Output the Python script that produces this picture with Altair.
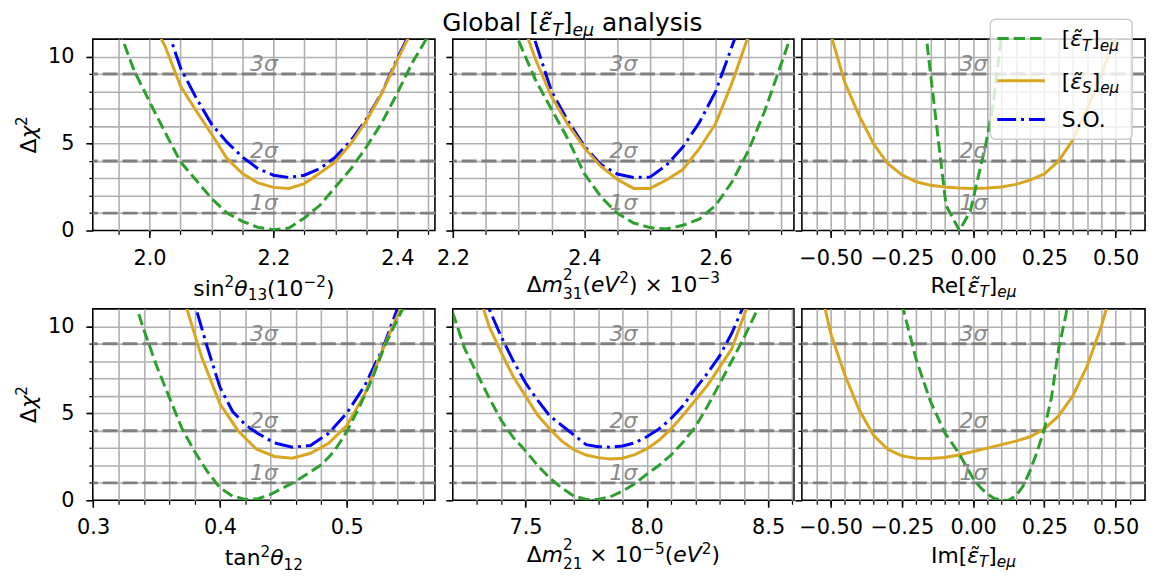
import altair as alt
import pandas as pd

FONT = "DejaVu Sans"

# ---------------- data ----------------
# top-left: sin^2(theta_13) (1e-2)
s13_T_x = [1.95, 1.975, 2.0, 2.025, 2.05, 2.075, 2.1, 2.125, 2.15, 2.175, 2.2, 2.225, 2.25, 2.275, 2.3, 2.325, 2.35, 2.375, 2.4, 2.425, 2.45]
s13_T_y = [11.6, 9.2, 7.4, 5.65, 3.95, 2.9, 1.85, 1.0, 0.53, 0.18, 0.05, 0.14, 0.72, 1.45, 2.5, 3.55, 4.8, 6.2, 7.9, 9.7, 11.2]
s13_S_x = [2.0, 2.025, 2.05, 2.075, 2.1, 2.125, 2.15, 2.175, 2.2, 2.225, 2.25, 2.275, 2.3, 2.325, 2.35, 2.375, 2.4, 2.425]
s13_S_y = [12.3, 10.6, 8.3, 6.9, 5.55, 4.13, 3.27, 2.74, 2.48, 2.42, 2.7, 3.31, 3.94, 5.0, 6.3, 7.9, 9.8, 11.6]
s13_SO_x = [2.025, 2.05, 2.075, 2.1, 2.125, 2.15, 2.175, 2.2, 2.225, 2.25, 2.275, 2.3, 2.325, 2.35, 2.375, 2.4, 2.425]
s13_SO_y = [12.0, 9.34, 7.64, 6.12, 5.08, 4.22, 3.56, 3.18, 3.05, 3.18, 3.56, 4.22, 5.17, 6.4, 7.92, 9.9, 11.7]

# top-middle: dm^2_31 (eV^2) x 1e-3
m31_T_x = [2.3, 2.325, 2.35, 2.375, 2.4, 2.425, 2.45, 2.475, 2.5, 2.525, 2.55, 2.575, 2.6, 2.625, 2.65, 2.675, 2.7, 2.725]
m31_T_y = [10.9, 8.7, 6.97, 5.26, 3.27, 1.95, 1.0, 0.43, 0.17, 0.09, 0.3, 0.65, 1.45, 2.8, 4.6, 6.9, 9.6, 12.3]
m31_S_x = [2.3, 2.325, 2.35, 2.375, 2.4, 2.425, 2.45, 2.475, 2.5, 2.525, 2.55, 2.575, 2.6, 2.625, 2.65]
m31_S_y = [12.6, 9.9, 7.7, 6.1, 4.75, 3.7, 2.95, 2.42, 2.42, 2.9, 3.5, 4.7, 6.15, 8.5, 11.2]
m31_SO_x = [2.325, 2.35, 2.375, 2.4, 2.425, 2.45, 2.475, 2.5, 2.525, 2.55, 2.575, 2.6, 2.625, 2.65]
m31_SO_y = [10.9, 8.0, 6.3, 4.85, 3.8, 3.25, 3.05, 3.07, 3.75, 4.8, 6.2, 8.0, 10.6, 13.2]

# top-right: Re[eps_T]_emu
re_T_x = [-0.175, -0.15, -0.125, -0.095, -0.048, -0.01, 0.045, 0.07, 0.1]
re_T_y = [12.6, 9.1, 5.6, 1.45, 0.0, 1.1, 5.0, 7.2, 11.3]
re_S_x = [-0.5, -0.45, -0.4, -0.35, -0.3, -0.25, -0.2, -0.15, -0.1, -0.05, 0.0, 0.05, 0.1, 0.15, 0.2, 0.25, 0.3, 0.35, 0.4, 0.45, 0.5]
re_S_y = [11.3, 8.5, 6.6, 5.0, 3.85, 3.2, 2.8, 2.6, 2.5, 2.45, 2.42, 2.45, 2.5, 2.65, 2.9, 3.25, 4.0, 5.2, 7.0, 8.9, 11.3]

# bottom-left: tan^2(theta_12)
t12_T_x = [0.336, 0.34, 0.35, 0.36, 0.37, 0.38, 0.39, 0.40, 0.41, 0.42, 0.43, 0.44, 0.45, 0.46, 0.47, 0.48, 0.49, 0.50, 0.51, 0.52, 0.53, 0.54, 0.55]
t12_T_y = [10.7, 9.8, 7.73, 5.93, 4.13, 2.8, 1.66, 0.72, 0.24, 0.05, 0.09, 0.34, 0.72, 1.1, 1.57, 2.04, 2.8, 3.94, 5.36, 6.97, 8.87, 10.4, 11.8]
t12_S_x = [0.3714, 0.3857, 0.4, 0.4143, 0.4286, 0.4429, 0.4571, 0.4714, 0.4857, 0.5, 0.5143, 0.5286, 0.5429]
t12_S_y = [11.6, 8.2, 5.55, 4.0, 2.95, 2.52, 2.42, 2.7, 3.27, 4.3, 6.1, 8.7, 11.1]
t12_SO_x = [0.382, 0.39, 0.4, 0.41, 0.42, 0.4286, 0.4429, 0.4571, 0.4714, 0.4857, 0.5, 0.5143, 0.5286, 0.5429]
t12_SO_y = [10.8, 8.8, 6.5, 5.1, 4.35, 3.9, 3.3, 3.05, 3.15, 3.85, 5.0, 6.6, 8.75, 11.6]

# bottom-middle: dm^2_21 x 1e-5 (eV^2)
m21_T_x = [7.2, 7.25, 7.3, 7.35, 7.4, 7.45, 7.5, 7.55, 7.6, 7.65, 7.7, 7.75, 7.8, 7.85, 7.9, 7.95, 8.0, 8.05, 8.1, 8.15, 8.2, 8.25, 8.3, 8.35, 8.4, 8.45, 8.5]
m21_T_y = [10.8, 8.7, 7.3, 5.9, 4.6, 3.6, 2.85, 2.0, 1.28, 0.7, 0.24, 0.05, 0.05, 0.2, 0.53, 0.95, 1.5, 2.0, 2.6, 3.35, 4.22, 5.4, 6.7, 8.0, 9.34, 10.8, 12.3]
m21_S_x = [7.3, 7.35, 7.4, 7.45, 7.5, 7.55, 7.6, 7.65, 7.7, 7.75, 7.8, 7.85, 7.9, 7.95, 8.0, 8.05, 8.1, 8.15, 8.2, 8.25, 8.3, 8.35, 8.4, 8.45]
m21_S_y = [12.2, 10.0, 8.5, 7.1, 6.0, 4.9, 4.1, 3.4, 2.9, 2.6, 2.45, 2.37, 2.42, 2.62, 2.95, 3.45, 4.1, 4.9, 5.75, 6.6, 7.65, 8.7, 10.6, 12.5]
m21_SO_x = [7.325, 7.35, 7.4, 7.45, 7.5, 7.55, 7.6, 7.65, 7.7, 7.75, 7.8, 7.85, 7.9, 7.95, 8.0, 8.05, 8.1, 8.15, 8.2, 8.25, 8.3, 8.35, 8.4]
m21_SO_y = [12.3, 11.0, 9.4, 8.0, 6.75, 5.75, 4.85, 4.3, 3.75, 3.2, 3.08, 3.05, 3.12, 3.3, 3.65, 4.1, 4.7, 5.45, 6.4, 7.3, 8.3, 9.6, 11.2]

# bottom-right: Im[eps_T]_emu
im_T_x = [-0.25, -0.2, -0.15, -0.1, -0.05, 0.0, 0.025, 0.05, 0.075, 0.1, 0.125, 0.15, 0.175, 0.2, 0.225, 0.25, 0.275, 0.3, 0.325, 0.35]
im_T_y = [11.3, 8.1, 5.7, 3.9, 2.7, 1.25, 0.75, 0.35, 0.1, 0.0, 0.02, 0.25, 0.8, 1.7, 2.8, 4.1, 5.9, 8.7, 10.6, 13.0]
im_S_x = [-0.525, -0.5, -0.45, -0.4, -0.35, -0.3, -0.25, -0.2, -0.15, -0.1, -0.05, 0.0, 0.05, 0.1, 0.15, 0.2, 0.25, 0.3, 0.35, 0.4, 0.45, 0.5]
im_S_y = [11.4, 9.6, 7.2, 5.2, 3.75, 2.93, 2.55, 2.42, 2.4, 2.46, 2.6, 2.8, 3.0, 3.2, 3.4, 3.65, 4.1, 4.85, 6.0, 7.7, 10.0, 12.8]

sigma_levels = [1, 4, 9]
sigma_labels = ["1σ", "2σ", "3σ"]

# ---------------- styling ----------------
GREEN, ORANGE, BLUE = "#2ca02c", "#daa520", "#0000ff"
DASH_T = [11.5, 5]
DASH_SO = [19, 5, 3, 5]
H = 193
Y_DOM = [0, 11]
ONE = pd.DataFrame({"k": [0]})

CW = {' ': 651, '(': 799, ')': 799, '[': 799, ']': 799, '.': 651, '×': 1716, '−': 1716,
      'G': 1586, 'I': 604, 'O': 1612, 'R': 1423, 'S': 1300, 'T': 1251, 'V': 1401,
      'a': 1255, 'b': 1300, 'e': 1260, 'i': 569, 'l': 569, 'm': 1995, 'n': 1298, 'o': 1253,
      's': 1067, 't': 803, 'y': 1212, 'Δ': 1401, 'θ': 1255, 'ε': 1100, 'μ': 1300, 'χ': 1180,
      '\u0303': 0}
for _d in "0123456789":
    CW[_d] = 1303


def em(s):
    return sum(CW.get(c, 1250) for c in s) / 2048.0


def txt(t, x, y, size, italic=False, color="black", angle=0):
    kw = dict(text=t, align="left", baseline="alphabetic", font=FONT, fontSize=size,
              fontStyle="italic" if italic else "normal", color=color)
    if angle:
        kw["angle"] = angle
    return alt.Chart(ONE).mark_text(**kw).encode(x=alt.value(x), y=alt.value(y))


def rich(runs, x0, y0, size, anchor="center", angle=0):
    placed = []
    x = 0.0
    for r in runs:
        if r[0] == "stack":
            s = size * 0.7
            placed.append((r[1], x, -0.55 * size, s, False))
            placed.append((r[2], x, 0.3 * size, s, False))
            x += max(em(r[1]), em(r[2])) * s
            continue
        kind, t, ital = r
        s = size if kind == "n" else size * 0.7
        dy = 0 if kind == "n" else (-0.4 * size if kind == "sup" else 0.2 * size)
        lead = len(t) - len(t.lstrip(" "))
        placed.append((t.strip(" "), x + em(" ") * lead * s, dy, s, ital))
        x += em(t) * s
    out = []
    if angle == 270:
        start = y0 + x / 2
        for t, dx, dy, s, ital in placed:
            if t:
                out.append(txt(t, x0 + dy, start - dx, s, ital, angle=270))
    else:
        start = x0 - x / 2 if anchor == "center" else x0
        for t, dx, dy, s, ital in placed:
            if t:
                out.append(txt(t, start + dx, y0 + dy, s, ital))
    return out


def eps_runs(prefix, sub):
    return [("n", prefix + "[", False), ("n", "ε\u0303", True), ("sub", sub, True),
            ("n", "]", False), ("sub", "eμ", True)]


def curve(xv, yv, color, dash, xs, ys):
    df = pd.DataFrame({"x": xv, "y": yv})
    kw = dict(color=color, strokeWidth=3, clip=True)
    if dash:
        kw["strokeDash"] = dash
    return alt.Chart(df).mark_line(**kw).encode(
        x=alt.X("x:Q", scale=xs, axis=None), y=alt.Y("y:Q", scale=ys, axis=None))


def panel(cfg):
    W = cfg["w"]
    xs = alt.Scale(domain=cfg["dom"], nice=False, zero=False)
    ys = alt.Scale(domain=Y_DOM, nice=False, zero=False)
    base = alt.Chart(pd.DataFrame({"x": cfg["dom"], "y": Y_DOM}))
    major = base.mark_point(opacity=0, size=1).encode(
        x=alt.X("x:Q", scale=xs, title=None, axis=alt.Axis(
            orient="bottom", values=cfg["majors"], format=cfg["fmt"], tickSize=7, tickWidth=1.6,
            tickColor="black", labelFontSize=21, labelPadding=10, labelColor="black",
            labelFont=FONT, labelOverlap=False, labelFlush=False, grid=False, domain=False)),
        y=alt.Y("y:Q", scale=ys, title=None, axis=alt.Axis(
            orient="left", values=[0, 5, 10], format="d", tickSize=7, tickWidth=1.6,
            tickColor="black", labels=cfg["ylab"], labelFontSize=21, labelPadding=12,
            labelColor="black", labelFont=FONT, labelOverlap=False, grid=False, domain=False)))
    minor = base.mark_point(opacity=0, size=1).encode(
        x=alt.X("x:Q", scale=xs, title=None, axis=alt.Axis(
            orient="bottom", values=cfg["minors"], tickSize=4, tickWidth=1.2, tickColor="black",
            labels=False, grid=True, gridColor="#b0b0b0", gridWidth=1.6, domain=False)),
        y=alt.Y("y:Q", scale=ys, title=None, axis=alt.Axis(
            orient="left", values=[1, 2, 3, 4, 5, 6, 7, 8, 9, 10], tickSize=4, tickWidth=1.2,
            tickColor="black", labels=False, grid=True, gridColor="#b0b0b0", gridWidth=1.6,
            domain=False)))
    sig = alt.Chart(pd.DataFrame({"lvl": sigma_levels, "lab": sigma_labels}))
    sig_rule = sig.mark_rule(color="#808080", strokeWidth=3, strokeDash=[15, 5]).encode(
        y=alt.Y("lvl:Q", scale=ys, axis=None))
    sig_text = sig.mark_text(font=FONT, fontSize=22, fontStyle="italic", color="#8a8a8a",
                             align="center", baseline="alphabetic", dy=-3).encode(
        y=alt.Y("lvl:Q", scale=ys, axis=None), x=alt.value(W / 2), text="lab:N")
    layers = [major, minor, sig_rule]
    for xv, yv, color, dash in cfg["series"]:
        layers.append(curve(xv, yv, color, dash, xs, ys))
    layers.append(sig_text)
    layers += rich(cfg["xtitle"], W / 2, cfg["xt_y"], 22)
    if cfg["ylab"]:
        layers += rich([("n", "Δ", False), ("n", "χ", True), ("sup", "2", False)],
                       -57.5, H / 2, 22, angle=270)
    layers += cfg.get("extra", [])
    return alt.layer(*layers).properties(width=W, height=H).resolve_axis(
        x="independent", y="independent")


def spacer():
    return alt.Chart(ONE).mark_point(opacity=0).encode(
        x=alt.value(0), y=alt.value(0)).properties(
        width=2, height=H, view=alt.ViewBackground(stroke="transparent"))


re_ticks = [-0.55, -0.5, -0.45, -0.4, -0.35, -0.3, -0.25, -0.2, -0.15, -0.1, -0.05, 0.0,
            0.05, 0.1, 0.15, 0.2, 0.25, 0.3, 0.35, 0.4, 0.45, 0.5, 0.55]

# title (placed relative to the top-middle panel) and legend (top-right panel)
title_layers = rich([("n", "Global [", False), ("n", "ε\u0303", True), ("sub", "T", True),
                     ("n", "]", False), ("sub", "eμ", True), ("n", " analysis", False)],
                    120.5, -8, 25)

leg_rows = [(-0.7, GREEN, DASH_T, eps_runs("", "T")),
            (42, ORANGE, None, eps_runs("", "S")),
            (81, BLUE, DASH_SO, [("n", "S.O.", False)])]
legend_layers = [alt.Chart(ONE).mark_rect(fill="white", fillOpacity=0.8, stroke="#cccccc",
                                          strokeWidth=1.5, cornerRadius=5).encode(
    x=alt.value(190), x2=alt.value(333), y=alt.value(-20), y2=alt.value(101))]
for ly, col, dash, runs in leg_rows:
    kw = dict(color=col, strokeWidth=3)
    if dash:
        kw["strokeDash"] = dash
    legend_layers.append(alt.Chart(ONE).mark_rule(**kw).encode(
        x=alt.value(197), x2=alt.value(245), y=alt.value(ly)))
    legend_layers += rich(runs, 262, ly + 8, 22, anchor="left")

P1 = panel(dict(w=345, dom=[1.9084, 2.4607], majors=[2.0, 2.2, 2.4],
                minors=[1.95, 2.0, 2.05, 2.1, 2.15, 2.2, 2.25, 2.3, 2.35, 2.4, 2.45], fmt=".1f",
                ylab=True, xt_y=259,
                xtitle=[("n", "sin", False), ("sup", "2", False), ("n", "θ", True), ("sub", "13", False),
                        ("n", "(10", False), ("sup", "−2", False), ("n", ")", False)],
                series=[(s13_SO_x, s13_SO_y, BLUE, DASH_SO), (s13_S_x, s13_S_y, ORANGE, None),
                        (s13_T_x, s13_T_y, GREEN, DASH_T)]))
P2 = panel(dict(w=344, dom=[2.1997, 2.7192], majors=[2.2, 2.4, 2.6],
                minors=[2.25, 2.3, 2.35, 2.4, 2.45, 2.5, 2.55, 2.6, 2.65, 2.7], fmt=".1f",
                ylab=False, xt_y=255,
                xtitle=[("n", "Δ", False), ("n", "m", True), ("stack", "2", "31"), ("n", "(", False),
                        ("n", "eV", True), ("sup", "2", False), ("n", ") × 10", False), ("sup", "−3", False)],
                series=[(m31_SO_x, m31_SO_y, BLUE, DASH_SO), (m31_S_x, m31_S_y, ORANGE, None),
                        (m31_T_x, m31_T_y, GREEN, DASH_T)],
                extra=title_layers))
P3 = panel(dict(w=346, dom=[-0.601, 0.6034], majors=[-0.5, -0.25, 0.0, 0.25, 0.5],
                minors=re_ticks, fmt=".2f", ylab=False, xt_y=256,
                xtitle=eps_runs("Re", "T"),
                series=[(re_S_x, re_S_y, ORANGE, None), (re_T_x, re_T_y, GREEN, DASH_T)],
                extra=legend_layers))
P4 = panel(dict(w=345, dom=[0.2997, 0.5696], majors=[0.3, 0.4, 0.5],
                minors=[0.32, 0.34, 0.36, 0.38, 0.4, 0.42, 0.44, 0.46, 0.48, 0.5, 0.52, 0.54, 0.56],
                fmt=".1f", ylab=True, xt_y=258.5,
                xtitle=[("n", "tan", False), ("sup", "2", False), ("n", "θ", True), ("sub", "12", False)],
                series=[(t12_SO_x, t12_SO_y, BLUE, DASH_SO), (t12_S_x, t12_S_y, ORANGE, None),
                        (t12_T_x, t12_T_y, GREEN, DASH_T)]))
P5 = panel(dict(w=344, dom=[7.2006, 8.6063], majors=[7.5, 8.0, 8.5],
                minors=[7.3, 7.4, 7.5, 7.6, 7.7, 7.8, 7.9, 8.0, 8.1, 8.2, 8.3, 8.4, 8.5, 8.6],
                fmt=".1f", ylab=False, xt_y=255.5,
                xtitle=[("n", "Δ", False), ("n", "m", True), ("stack", "2", "21"), ("n", " × 10", False),
                        ("sup", "−5", False), ("n", "(", False), ("n", "eV", True), ("sup", "2", False),
                        ("n", ")", False)],
                series=[(m21_SO_x, m21_SO_y, BLUE, DASH_SO), (m21_S_x, m21_S_y, ORANGE, None),
                        (m21_T_x, m21_T_y, GREEN, DASH_T)]))
P6 = panel(dict(w=346, dom=[-0.601, 0.6034], majors=[-0.5, -0.25, 0.0, 0.25, 0.5],
                minors=re_ticks, fmt=".2f", ylab=False, xt_y=256,
                xtitle=eps_runs("Im", "T"),
                series=[(im_S_x, im_S_y, ORANGE, None), (im_T_x, im_T_y, GREEN, DASH_T)]))

row1 = alt.hconcat(P1, spacer(), P2, P3, spacing=8, bounds="flush")
row2 = alt.hconcat(P4, spacer(), P5, P6, spacing=8, bounds="flush")

chart = alt.vconcat(row1, row2, spacing=0).properties(
    padding={"left": 5.5, "top": 0, "right": 0, "bottom": 3}
).configure(font=FONT).configure_view(stroke="black", strokeWidth=1.6)

chart.save("out.html", embed_options={"renderer": "svg", "actions": False})
